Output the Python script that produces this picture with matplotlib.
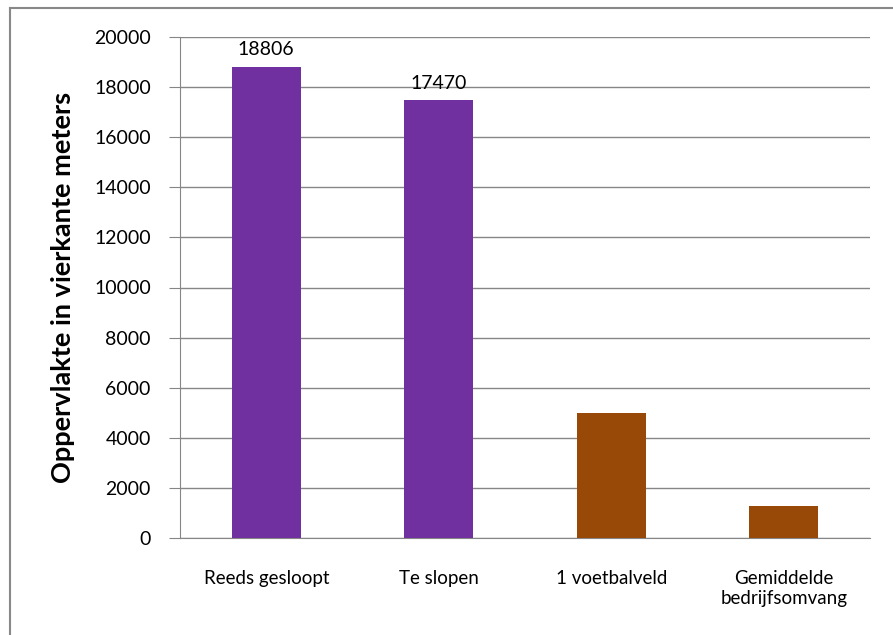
import matplotlib.pyplot as plt
from matplotlib.lines import Line2D

plt.rcParams['font.family'] = ['Lato', 'DejaVu Sans']

categories = ['Reeds gesloopt', 'Te slopen', '1 voetbalveld', 'Gemiddelde\nbedrijfsomvang']
values = [18806, 17470, 5000, 1275]
labels = ['18806', '17470', '', '']
colors = ['#7030A0', '#7030A0', '#984807', '#984807']
yticks = list(range(0, 20001, 2000))

fig = plt.figure(figsize=(8.93, 6.35), dpi=100)
ax = fig.add_axes([180 / 893, 1 - 538 / 635, 690 / 893, 501 / 635])

x = range(len(categories))
bars = ax.bar(x, values, width=0.4, color=colors, zorder=3)
for b, lab in zip(bars, labels):
    if lab:
        ax.text(b.get_x() + b.get_width() / 2, b.get_height() + 350, lab,
                ha='center', va='bottom', fontsize=14, color='#000000')

ax.set_xlim(-0.5, 3.5)
ax.set_ylim(0, 20000)
ax.set_yticks(yticks)
ax.set_yticklabels([str(t) for t in yticks], fontsize=14)
ax.set_xticks(list(x))
ax.set_xticklabels(categories, fontsize=13.5, linespacing=1.2)
ax.tick_params(axis='x', length=0, pad=23)
ax.tick_params(axis='y', length=8, color='#868686', pad=13)
ax.grid(axis='y', color='#868686', linewidth=1, zorder=0)
for s in ['top', 'right']:
    ax.spines[s].set_visible(False)
ax.spines['left'].set_color('#868686')
ax.spines['bottom'].set_color('#868686')
ax.set_ylabel('Oppervlakte in vierkante meters', fontsize=19.5, fontweight='bold', labelpad=14)

# outer chart border (left and top visible only)
fig.add_artist(Line2D([10 / 893, 10 / 893], [0, 1 - 8 / 635], color='#888888', lw=1.5))
fig.add_artist(Line2D([10 / 893, 1], [1 - 8 / 635, 1 - 8 / 635], color='#888888', lw=1.5))

fig.savefig('out.png', dpi=100)
